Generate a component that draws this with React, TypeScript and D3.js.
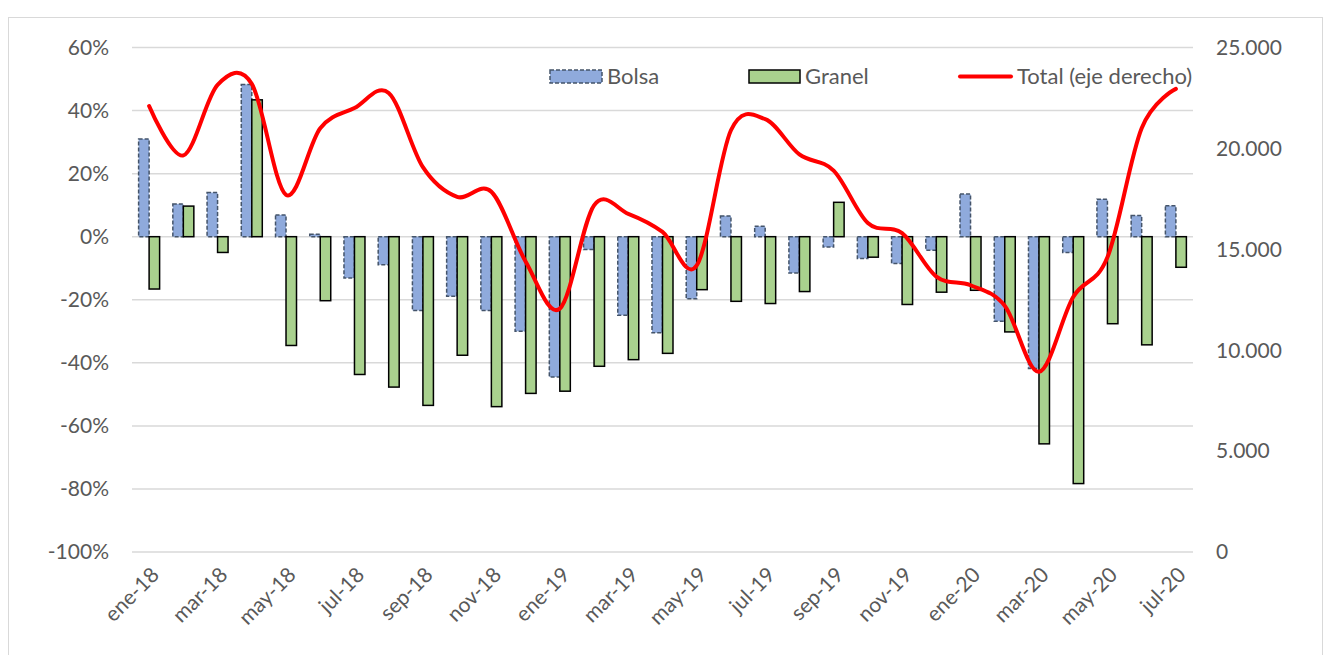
import { useEffect, useRef } from 'react'
import * as d3 from 'd3'

const months = [
  'ene-18', 'feb-18', 'mar-18', 'abr-18', 'may-18', 'jun-18', 'jul-18', 'ago-18', 'sep-18', 'oct-18', 'nov-18', 'dic-18',
  'ene-19', 'feb-19', 'mar-19', 'abr-19', 'may-19', 'jun-19', 'jul-19', 'ago-19', 'sep-19', 'oct-19', 'nov-19', 'dic-19',
  'ene-20', 'feb-20', 'mar-20', 'abr-20', 'may-20', 'jun-20', 'jul-20',
]

const bolsa = [
  0.31, 0.104, 0.14, 0.483, 0.069, 0.008, -0.131, -0.089, -0.234, -0.189, -0.234, -0.3,
  -0.445, -0.041, -0.249, -0.305, -0.197, 0.066, 0.033, -0.115, -0.033, -0.069, -0.085, -0.043,
  0.135, -0.268, -0.418, -0.05, 0.119, 0.067, 0.098,
]

const granel = [
  -0.166, 0.097, -0.05, 0.434, -0.345, -0.203, -0.437, -0.477, -0.535, -0.376, -0.539, -0.497,
  -0.49, -0.411, -0.39, -0.37, -0.168, -0.205, -0.212, -0.174, 0.109, -0.065, -0.215, -0.176,
  -0.17, -0.302, -0.657, -0.783, -0.276, -0.343, -0.097,
]

const total = [
  22100, 19650, 23150, 23200, 17700, 21000, 22000, 22750, 19070, 17600, 17850, 14400,
  12060, 17180, 16760, 15860, 14200, 20900, 21450, 19700, 18900, 16300, 15800, 13650,
  13220, 12200, 8930, 12640, 14600, 21000, 22950,
]

const leftTicks = [-1, -0.8, -0.6, -0.4, -0.2, 0, 0.2, 0.4, 0.6]
const rightTicks = [0, 5000, 10000, 15000, 20000, 25000]

const W = 1331
const H = 655
const FONT = 'Lato, "Open Sans", sans-serif'
const TEXT = '#595959'

export default function App() {
  const svgRef = useRef<SVGSVGElement>(null)

  useEffect(() => {
    const svg = d3.select(svgRef.current)
    svg.selectAll('*').remove()

    const left = 132
    const right = 1193
    const top = 47.5
    const bottom = 552

    svg.append('rect')
      .attr('x', 8.5).attr('y', 17.5).attr('width', 1314).attr('height', 700)
      .attr('fill', '#fff').attr('stroke', '#d9d9d9').attr('stroke-width', 1)

    const x = d3.scaleBand<string>().domain(months).range([left, right]).paddingInner(0).paddingOuter(0)
    const y = d3.scaleLinear().domain([-1, 0.6]).range([bottom, top])
    const y2 = d3.scaleLinear().domain([0, 25000]).range([bottom, top])

    const groupW = x.bandwidth() / 1.63
    const inner = d3.scaleBand<string>().domain(['bolsa', 'granel']).range([-groupW / 2, groupW / 2])

    // grid
    svg.append('g')
      .selectAll('line')
      .data(leftTicks)
      .join('line')
      .attr('x1', left).attr('x2', right)
      .attr('y1', (d) => y(d)).attr('y2', (d) => y(d))
      .attr('stroke', '#d9d9d9').attr('stroke-width', 1.5)

    // left labels
    svg.append('g')
      .selectAll('text')
      .data(leftTicks)
      .join('text')
      .attr('x', 109).attr('y', (d) => y(d))
      .attr('dy', '0.35em').attr('text-anchor', 'end')
      .style('font-family', FONT).style('font-size', '21px').style('fill', TEXT)
      .text((d) => `${Math.round(d * 100)}%`)

    // right labels
    svg.append('g')
      .selectAll('text')
      .data(rightTicks)
      .join('text')
      .attr('x', 1216).attr('y', (d) => y2(d))
      .attr('dy', '0.35em').attr('text-anchor', 'start')
      .style('font-family', FONT).style('font-size', '21px').style('fill', TEXT)
      .text((d) => d3.format(',')(d).replace(/,/g, '.'))

    // x labels
    svg.append('g')
      .selectAll('text')
      .data(months.filter((_, i) => i % 2 === 0))
      .join('text')
      .attr('transform', (d) => `translate(${(x(d) ?? 0) + x.bandwidth() / 2 + 6},${571}) rotate(-45)`)
      .attr('text-anchor', 'end')
      .attr('dy', '0.35em')
      .style('font-family', FONT).style('font-size', '21px').style('fill', TEXT)
      .text((d) => d)

    const cx = (i: number) => (x(months[i]) ?? 0) + x.bandwidth() / 2

    // bolsa bars
    svg.append('g')
      .selectAll('rect')
      .data(bolsa)
      .join('rect')
      .attr('x', (_, i) => cx(i) + (inner('bolsa') ?? 0))
      .attr('width', inner.bandwidth())
      .attr('y', (d) => y(Math.max(0, d)))
      .attr('height', (d) => Math.abs(y(d) - y(0)))
      .attr('fill', '#8faadc')
      .attr('stroke', '#44546a')
      .attr('stroke-width', 1.5)
      .attr('stroke-dasharray', '4,2')

    // granel bars
    svg.append('g')
      .selectAll('rect')
      .data(granel)
      .join('rect')
      .attr('x', (_, i) => cx(i) + (inner('granel') ?? 0))
      .attr('width', inner.bandwidth())
      .attr('y', (d) => y(Math.max(0, d)))
      .attr('height', (d) => Math.abs(y(d) - y(0)))
      .attr('fill', '#a9d18e')
      .attr('stroke', '#000')
      .attr('stroke-width', 1.5)

    // total line
    const line = d3.line<number>()
      .x((_, i) => cx(i))
      .y((d) => y2(d))
      .curve(d3.curveCardinal.tension(0))

    svg.append('path')
      .datum(total)
      .attr('fill', 'none')
      .attr('stroke', '#ff0000')
      .attr('stroke-width', 4)
      .attr('stroke-linecap', 'round')
      .attr('stroke-linejoin', 'round')
      .attr('d', line)

    // legend
    const lg = svg.append('g')
    const ly = 76.5
    lg.append('rect')
      .attr('x', 550).attr('y', ly - 6.5).attr('width', 52).attr('height', 13)
      .attr('fill', '#8faadc').attr('stroke', '#44546a').attr('stroke-width', 1.5).attr('stroke-dasharray', '4,2')
    lg.append('text')
      .attr('x', 607).attr('y', ly).attr('dy', '0.35em')
      .style('font-family', FONT).style('font-size', '22px').style('fill', TEXT)
      .text('Bolsa')
    lg.append('rect')
      .attr('x', 749).attr('y', ly - 6.5).attr('width', 51).attr('height', 13)
      .attr('fill', '#a9d18e').attr('stroke', '#000').attr('stroke-width', 1.5)
    lg.append('text')
      .attr('x', 805).attr('y', ly).attr('dy', '0.35em')
      .style('font-family', FONT).style('font-size', '22px').style('fill', TEXT)
      .text('Granel')
    lg.append('line')
      .attr('x1', 960).attr('x2', 1011).attr('y1', ly).attr('y2', ly)
      .attr('stroke', '#ff0000').attr('stroke-width', 4).attr('stroke-linecap', 'round')
    lg.append('text')
      .attr('x', 1017).attr('y', ly).attr('dy', '0.35em')
      .style('font-family', FONT).style('font-size', '22px').style('fill', TEXT)
      .text('Total (eje derecho)')
  }, [])

  return (
    <svg
      ref={svgRef}
      width={W}
      height={H}
      viewBox={`0 0 ${W} ${H}`}
      style={{ position: 'absolute', left: 0, top: 0, display: 'block', background: '#fff' }}
    />
  )
}
